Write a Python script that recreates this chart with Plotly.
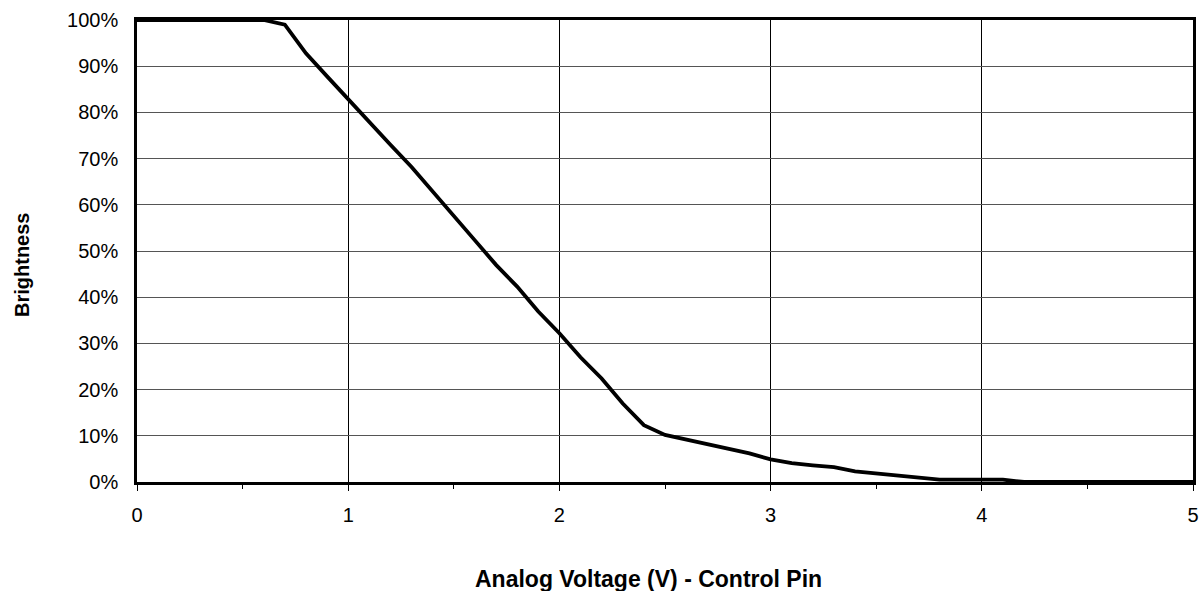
import plotly.graph_objects as go

voltage = [0.0, 0.1, 0.2, 0.3, 0.4, 0.5, 0.6, 0.7, 0.8, 0.9,
           1.0, 1.1, 1.2, 1.3, 1.4, 1.5, 1.6, 1.7, 1.8, 1.9,
           2.0, 2.1, 2.2, 2.3, 2.4, 2.5, 2.6, 2.7, 2.8, 2.9,
           3.0, 3.1, 3.2, 3.3, 3.4, 3.5, 3.6, 3.7, 3.8, 3.9,
           4.0, 4.1, 4.2, 4.3, 4.4, 4.5, 4.6, 4.7, 4.8, 4.9, 5.0]
brightness = [100, 100, 100, 100, 100, 100, 100, 99, 92.8, 87.8,
              82.8, 77.8, 73, 68.2, 63, 57.6, 52.3, 47, 42.3, 36.9,
              32.2, 27, 22.4, 17, 12.3, 10.2, 9.2, 8, 7.1, 6.2,
              4.9, 4.1, 3.6, 3.2, 2.3, 1.8, 1.3, 0.8, 0.5, 0.5,
              0.5, 0.5, 0, 0, 0, 0, 0, 0, 0, 0, 0]

x_ticks = [0, 1, 2, 3, 4, 5]
y_ticks = [0, 10, 20, 30, 40, 50, 60, 70, 80, 90, 100]
y_labels = [f"{v}%" for v in y_ticks]
x_title = "Analog Voltage (V) - Control Pin"
y_title = "Brightness"

fig = go.Figure()
fig.add_trace(go.Scatter(x=voltage, y=brightness, mode="lines",
                         line=dict(color="black", width=3.8),
                         showlegend=False, hoverinfo="skip"))

font_family = "Liberation Sans, Arial, sans-serif"

fig.update_layout(
    width=1202, height=591,
    margin=dict(l=137, r=9, t=20, b=109, autoexpand=False),
    paper_bgcolor="white", plot_bgcolor="white",
    font=dict(family=font_family, color="black", size=20),
)

fig.update_xaxes(
    range=[0, 5], tickvals=x_ticks, ticktext=[str(t) for t in x_ticks],
    showgrid=True, gridcolor="black", gridwidth=1,
    showline=True, linecolor="black", linewidth=2.5, mirror=True,
    ticks="outside", ticklen=6, tickwidth=1, tickcolor="black",
    minor=dict(dtick=0.5, ticks="outside", ticklen=4, tickwidth=1,
               tickcolor="black", showgrid=False),
    ticklabelstandoff=7,
    tickfont=dict(size=20),
    zeroline=False, automargin=False,
)

fig.update_yaxes(
    range=[0, 100], tickvals=y_ticks, ticktext=y_labels,
    showgrid=True, gridcolor="#555555", gridwidth=1,
    showline=True, linecolor="black", linewidth=2.5, mirror=True,
    ticks="", ticklabelstandoff=12,
    tickfont=dict(size=20),
    zeroline=False, automargin=False,
)

fig.add_annotation(text=f"<b>{x_title}</b>", xref="paper", yref="paper",
                   x=(648 - 137) / (1193 - 137), y=-(579 - 482) / (482 - 20),
                   xanchor="center", yanchor="middle", showarrow=False,
                   font=dict(size=23))
fig.add_annotation(text=f"<b>{y_title}</b>", xref="paper", yref="paper",
                   x=-(137 - 22) / (1193 - 137), y=(482 - 265) / (482 - 20),
                   xanchor="center", yanchor="middle", showarrow=False,
                   textangle=-90, font=dict(size=20))

fig.write_html("out.html", config={"displayModeBar": False},
               post_script="document.body.style.margin='0';document.body.style.overflow='hidden';")
